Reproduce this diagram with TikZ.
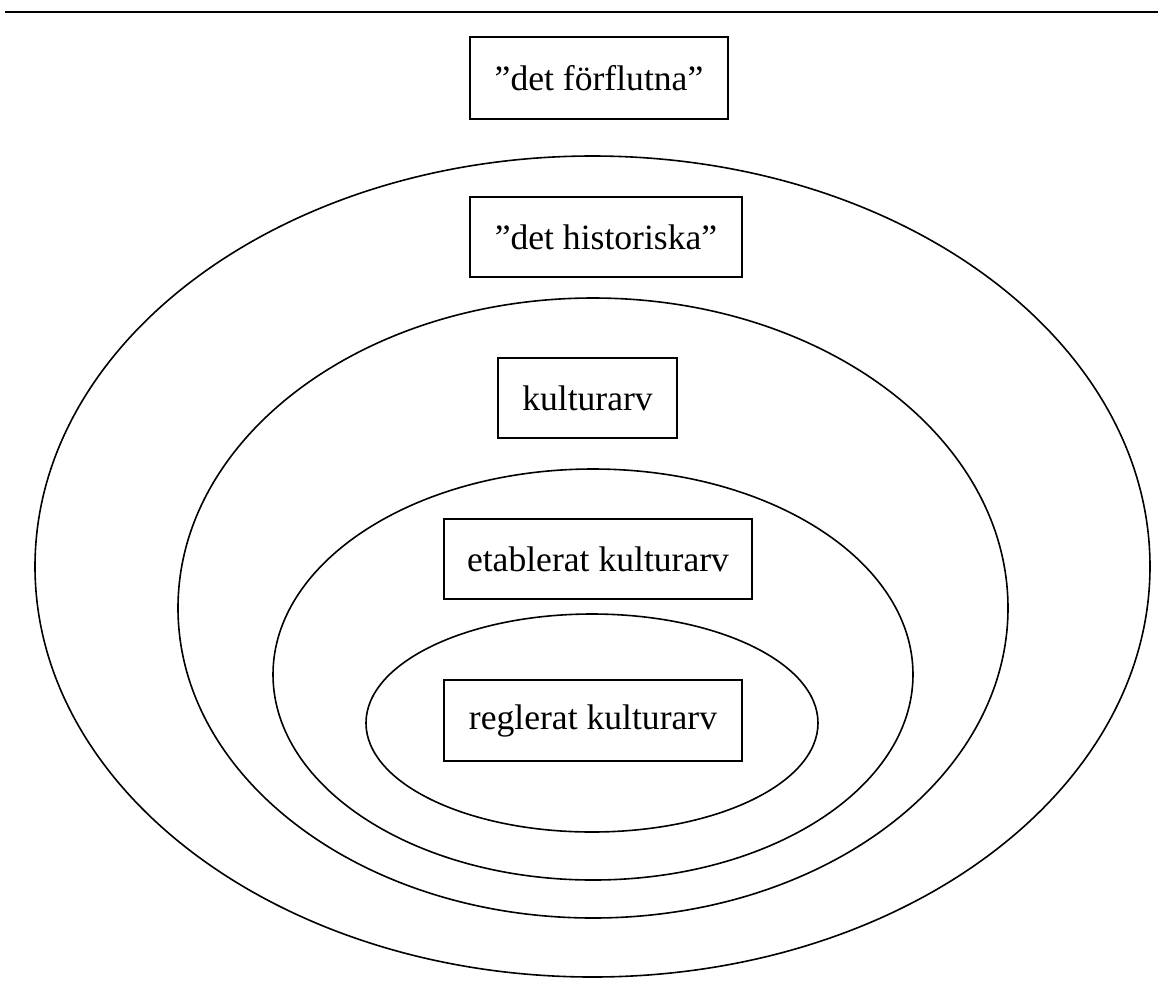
\documentclass[tikz,border=0pt]{standalone}
\usepackage{fontspec}
\setmainfont{Liberation Serif}
\usetikzlibrary{shapes.geometric}
\begin{document}
\begin{tikzpicture}[x=0.5pt,y=-0.5pt,
  lbl/.style={draw, line width=0.8pt, rectangle, inner sep=0pt, font=\fontsize{17.8}{20}\selectfont},
  ell/.style={draw, line width=0.8pt, ellipse, inner sep=0pt}]
\useasboundingbox[fill=white] (0,0) rectangle (1158,1003);
\coordinate (lineL) at (5,12);
\coordinate (lineR) at (1158,12);
\draw[line width=1pt] (lineL) -- (lineR);
\node[ell, minimum width=557.5pt, minimum height=410.5pt] (e1) at (592.5,566.5) {};
\node[ell, minimum width=415pt, minimum height=310pt] (e2) at (593,608) {};
\node[ell, minimum width=320pt, minimum height=205.5pt] (e3) at (593,674.5) {};
\node[ell, minimum width=226pt, minimum height=109pt] (e4) at (592,723) {};
\node[lbl, minimum width=129pt, minimum height=41pt] (b1) at (599,78) {”det förflutna”};
\node[lbl, minimum width=136pt, minimum height=40pt] (b2) at (606,237) {”det historiska”};
\node[lbl, minimum width=89.5pt, minimum height=40pt] (b3) at (587.5,398) {kulturarv};
\node[lbl, minimum width=154pt, minimum height=40pt] (b4) at (598,559) {etablerat kulturarv};
\node[lbl, minimum width=149pt, minimum height=40.5pt] (b5) at (593,720.5) {reglerat kulturarv};
\end{tikzpicture}
\end{document}
